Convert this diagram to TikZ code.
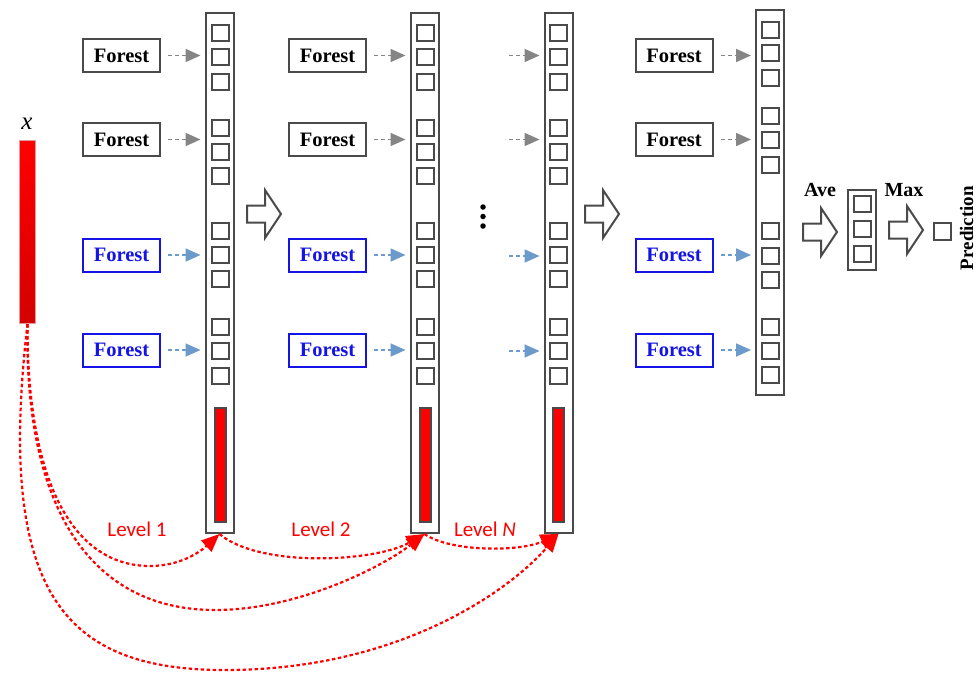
\documentclass[tikz,border=0pt]{standalone}
\usepackage{fontspec}
\setmainfont{Liberation Serif}
\newfontfamily\lblfont{Carlito}
\usetikzlibrary{arrows.meta,calc}
\definecolor{edgegray}{HTML}{4A4A4A}
\definecolor{feedgray}{HTML}{858585}
\definecolor{feedblue}{HTML}{6B9ACB}
\definecolor{forestblue}{HTML}{1414E6}
\definecolor{bardark}{HTML}{D40000}
\definecolor{barrim}{HTML}{E89A9A}
\tikzset{
  pics/fatarrow/.style={code={
    \draw[edgegray,line width=2pt,fill=white,line join=miter]
      (0,-8.5) -- (18,-8.5) -- (18,-24) -- (34,0) -- (18,24) -- (18,8.5) -- (0,8.5) -- cycle;}}
}
\begin{document}
\begin{tikzpicture}[x=1pt,y=-1pt,
  colbox/.style={draw=edgegray,line width=2pt,minimum width=28pt,inner sep=0pt,fill=white},
  cell/.style={draw=edgegray,line width=2pt,minimum width=17pt,minimum height=16pt,inner sep=0pt},
  redbar/.style={draw=edgegray,line width=2pt,fill=red,minimum width=11pt,minimum height=114pt,inner sep=0pt},
  forestblk/.style={draw=edgegray,line width=2pt,minimum width=77pt,minimum height=33pt,inner sep=0pt,
    font=\fontsize{20.5}{22}\selectfont\bfseries},
  forestblu/.style={forestblk,draw=forestblue,text=forestblue},
  feed/.style={dash pattern=on 4pt off 3pt,line width=1.8pt,-{Triangle[length=15pt,width=13pt]},
    shorten >=4pt,shorten <=7pt},
  feedg/.style={feed,color=feedgray},
  feedb/.style={feed,color=feedblue},
  redlink/.style={red,line width=2.2pt,dash pattern=on 3.5pt off 2.5pt,-{Triangle[length=18pt,width=15pt]}},
  boldlab/.style={font=\fontsize{20}{22}\selectfont\bfseries,inner sep=0pt},
  lvl/.style={font=\lblfont\fontsize{21}{24}\selectfont,text=red,inner sep=0pt,anchor=base},
  dot/.style={circle,fill=black,minimum size=5.5pt,inner sep=0pt}
]
\useasboundingbox (0,0) rectangle (977,673);

% input feature vector
\node[draw=barrim,line width=1pt,top color=red,bottom color=bardark,
      minimum width=16pt,minimum height=183pt,inner sep=0pt] (xin) at (27.5,232) {};
\node[font=\fontsize{25}{26}\selectfont\itshape,inner sep=0pt] (xlab) at (27,124) {x};

% cascade level columns
\node[colbox,minimum height=520pt] (cA) at (219.5,273) {};
\node[colbox,minimum height=520pt] (cB) at (424.5,273) {};
\node[colbox,minimum height=520pt] (cC) at (558.5,273) {};
\node[colbox,minimum height=385pt] (cD) at (770,202.5) {};

\foreach \c/\cx in {A/220.5,B/425,C/558.5}{
  \foreach \y [count=\i] in {33,57,82,128,152,176,231,255,279,327,351,376}
    \node[cell] (\c-\i) at (\cx,\y) {};
  \node[redbar] (\c-bar) at (\cx,465) {};
}
\foreach \y [count=\i] in {30,53,78,116,140,165,231,256,280,327,351,375}
  \node[cell] (D-\i) at (770.5,\y) {};

% forests
\foreach \c/\fx in {A/121.5,B/327.5,D/674}{
  \node[forestblk] (f\c1) at (\fx,55.5) {Forest};
  \node[forestblk] (f\c2) at (\fx,139.5) {Forest};
  \node[forestblu] (f\c3) at (\fx,255) {Forest};
  \node[forestblu] (f\c4) at (\fx,350) {Forest};
}
\foreach \c in {A,B,D}{
  \draw[feedg] (f\c1.east) -- (f\c1.east -| c\c.west);
  \draw[feedg] (f\c2.east) -- (f\c2.east -| c\c.west);
  \draw[feedb] (f\c3.east) -- (f\c3.east -| c\c.west);
  \draw[feedb] (f\c4.east) -- (f\c4.east -| c\c.west);
}
\coordinate (sC1) at (502,55.5);
\coordinate (sC2) at (502,139.5);
\coordinate (sC3) at (502,256);
\coordinate (sC4) at (502,351);
\draw[feedg] (sC1) -- (sC1 -| cC.west);
\draw[feedg] (sC2) -- (sC2 -| cC.west);
\draw[feedb] (sC3) -- (sC3 -| cC.west);
\draw[feedb] (sC4) -- (sC4 -| cC.west);

% vertical ellipsis
\node[dot] (d1) at (483,207) {};
\node[dot] (d2) at (483,216.5) {};
\node[dot] (d3) at (483,226) {};

% block arrows
\pic at (247,214) {fatarrow};
\pic at (585,214) {fatarrow};
\pic at (803,232) {fatarrow};
\pic at (889,230) {fatarrow};

% averaging and final prediction
\node[colbox,minimum height=80pt] (avg) at (862,230) {};
\node[cell] (avg-1) at (862.5,204) {};
\node[cell] (avg-2) at (862.5,229) {};
\node[cell] (avg-3) at (862.5,254) {};
\node[cell,minimum height=17pt] (pred) at (942.5,231.5) {};
\node[boldlab,anchor=base] (aveL) at (820,196) {Ave};
\node[boldlab,anchor=base] (maxL) at (904,196) {Max};
\node[boldlab,font=\fontsize{19}{20}\selectfont\bfseries,rotate=90,anchor=base] (predL) at (973,228) {Prediction};

% level labels
\node[lvl] (l1) at (137,536) {Level 1};
\node[lvl] (l2) at (321,536) {Level 2};
\node[lvl] (lN) at (485,536) {Level \textit{N}};

% feature re-use links
\draw[redlink] (xin.south) .. controls (27,480) and (72,566) .. (150,566)
  .. controls (180,566) and (200,552) .. (cA.south);
\draw[redlink] (xin.south) .. controls (24,515) and (95,610) .. (215,610)
  .. controls (300,610) and (385,565) .. (cB.south);
\draw[redlink] (xin.south) .. controls (-4,595) and (65,670) .. (225,670)
  .. controls (400,670) and (510,590) .. (cC.south);
\draw[redlink] (cA.south) .. controls (260,568) and (375,562) .. (cB.south);
\draw[redlink] (cB.south) .. controls (450,552) and (520,552) .. (cC.south);
\end{tikzpicture}
\end{document}
